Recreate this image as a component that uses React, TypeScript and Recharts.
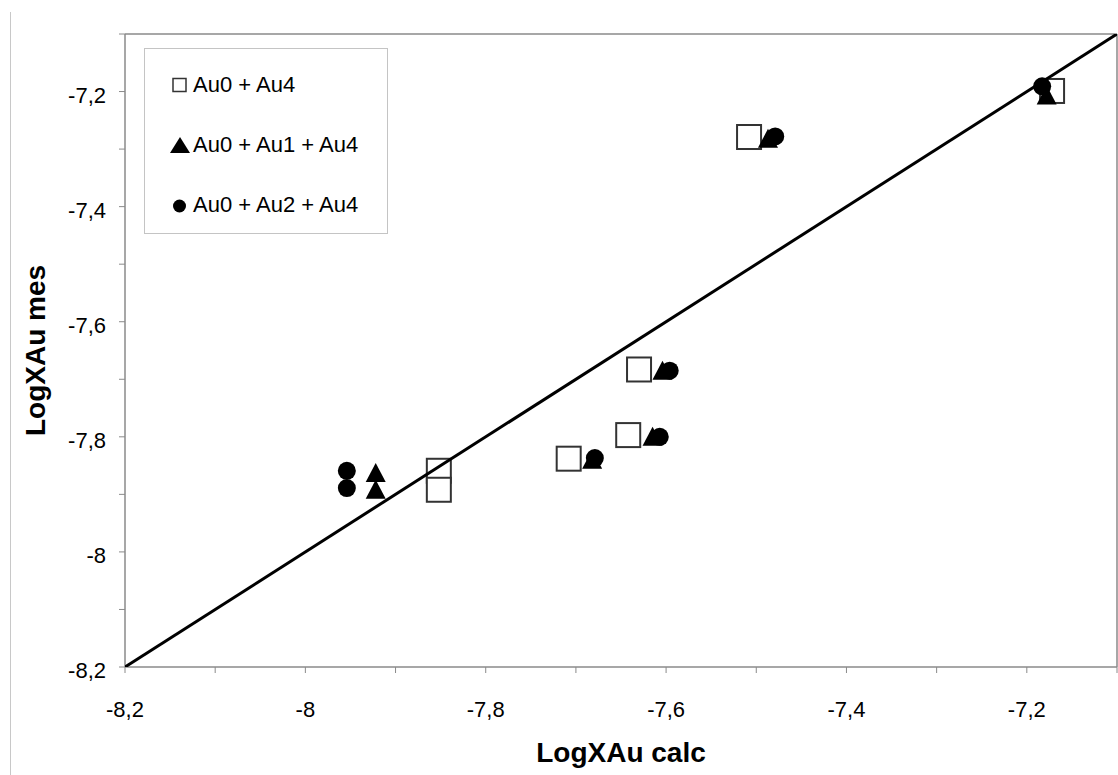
import React from "react";
import {
  ScatterChart,
  Scatter,
  XAxis,
  YAxis,
  ReferenceLine,
  Legend,
} from "recharts";

// ---- data ----
const sqCalc = [-7.852, -7.852, -7.708, -7.642, -7.63, -7.508, -7.172];
const sqMes = [-7.859, -7.892, -7.838, -7.797, -7.683, -7.279, -7.199];

const triCalc = [-7.922, -7.922, -7.682, -7.615, -7.604, -7.487, -7.178];
const triMes = [-7.863, -7.892, -7.84, -7.8, -7.685, -7.282, -7.207];

const cirCalc = [-7.954, -7.954, -7.679, -7.607, -7.596, -7.479, -7.183];
const cirMes = [-7.859, -7.889, -7.837, -7.8, -7.685, -7.278, -7.191];

const diagCalc = [-8.2, -7.1];
const diagMes = [-8.2, -7.1];

const tickValues = [-8.2, -8.1, -8, -7.9, -7.8, -7.7, -7.6, -7.5, -7.4, -7.3, -7.2, -7.1];
const tickLabels = ["-8,2", "", "-8", "", "-7,8", "", "-7,6", "", "-7,4", "", "-7,2", ""];

const seriesNames = ["Au0 + Au4", "Au0 + Au1 + Au4", "Au0 + Au2 + Au4"];

const zip = (xs: number[], ys: number[]) => xs.map((x, i) => ({ x, y: ys[i] }));
const squares = zip(sqCalc, sqMes);
const triangles = zip(triCalc, triMes);
const circles = zip(cirCalc, cirMes);
const diagonal = zip(diagCalc, diagMes);

const FONT = "'Liberation Sans', Arial, Helvetica, sans-serif";
const AXIS = "#8a8a8a";

const labelFor = (v: number) => {
  const i = tickValues.findIndex((t) => Math.abs(t - v) < 1e-9);
  return i >= 0 ? tickLabels[i] : "";
};

const XTick = (props: any) => {
  const { x, y, payload } = props;
  const l = labelFor(payload.value);
  if (!l) return null;
  return (
    <text x={x} y={y} dy={42} textAnchor="middle" fontSize={22} fontFamily={FONT} fill="#000">
      {l}
    </text>
  );
};

const YTick = (props: any) => {
  const { x, y, payload } = props;
  const l = labelFor(payload.value);
  if (!l) return null;
  return (
    <text x={x} y={y} dy={11} textAnchor="end" fontSize={22} fontFamily={FONT} fill="#000">
      {l}
    </text>
  );
};

const SquareShape = (p: any) => (
  <rect x={p.cx - 12} y={p.cy - 12} width={24} height={24} fill="#fff" stroke="#333" strokeWidth={2} />
);
const TriangleShape = (p: any) => (
  <polygon
    points={`${p.cx},${p.cy - 10} ${p.cx - 10},${p.cy + 9} ${p.cx + 10},${p.cy + 9}`}
    fill="#000"
  />
);
const CircleShape = (p: any) => <circle cx={p.cx} cy={p.cy} r={9} fill="#000" />;
const NoShape = () => null;

const LegendBox = () => (
  <div
    style={{
      width: 244,
      height: 186,
      boxSizing: "border-box",
      border: "1px solid #c4c4c4",
      background: "#fff",
      fontFamily: FONT,
      fontSize: 22,
      position: "relative",
    }}
  >
    {seriesNames.map((n, i) => (
      <div
        key={n}
        style={{
          position: "absolute",
          left: 24,
          top: 24 + i * 60,
          height: 24,
          display: "flex",
          alignItems: "center",
          whiteSpace: "nowrap",
          color: "#000",
        }}
      >
        <svg width={22} height={20} style={{ marginRight: 2 }}>
          {i === 0 && <rect x={4} y={3.5} width={13} height={13} fill="#fff" stroke="#333" strokeWidth={1.5} />}
          {i === 1 && <polygon points="11,2 1,18 21,18" fill="#000" />}
          {i === 2 && <circle cx={10.5} cy={11} r={6.5} fill="#000" />}
        </svg>
        <span>{n}</span>
      </div>
    ))}
  </div>
);

export default function App() {
  return (
    <div style={{ position: "fixed", left: 0, top: 0, width: 1118, height: 775, background: "#fff" }}>
      <div style={{ position: "absolute", left: 10, top: 12, bottom: 0, width: 1, background: "#c8c8c8" }} />
      <ScatterChart width={1118} height={775} margin={{ top: 34, right: 1, bottom: 0, left: 0 }}>
        <XAxis
          type="number"
          dataKey="x"
          domain={[-8.2, -7.1]}
          ticks={tickValues}
          interval={0}
          allowDataOverflow
          height={108}
          axisLine={{ stroke: AXIS, strokeWidth: 1.5 }}
          tickLine={{ stroke: AXIS, strokeWidth: 1 }}
          tickSize={6}
          tick={<XTick />}
          label={{
            content: (lp: any) => {
              const vb = lp.viewBox || {};
              return (
                <text
                  x={(vb.x || 0) + (vb.width || 0) / 2}
                  y={762}
                  textAnchor="middle"
                  fontSize={28}
                  fontWeight="bold"
                  fontFamily={FONT}
                  fill="#000"
                >
                  LogXAu calc
                </text>
              );
            },
          }}
        />
        <YAxis
          type="number"
          dataKey="y"
          domain={[-8.2, -7.1]}
          ticks={tickValues}
          interval={0}
          allowDataOverflow
          width={125}
          axisLine={{ stroke: AXIS, strokeWidth: 1.5 }}
          tickLine={{ stroke: AXIS, strokeWidth: 1 }}
          tickSize={6}
          tickMargin={13}
          tick={<YTick />}
          label={{
            content: (lp: any) => {
              const vb = lp.viewBox || {};
              const cy = (vb.y || 0) + (vb.height || 0) / 2;
              return (
                <text
                  x={45}
                  y={cy}
                  transform={`rotate(-90 45 ${cy})`}
                  textAnchor="middle"
                  fontSize={28}
                  fontWeight="bold"
                  fontFamily={FONT}
                  fill="#000"
                >
                  LogXAu mes
                </text>
              );
            },
          }}
        />
        <ReferenceLine y={-7.1} stroke={AXIS} strokeWidth={1.5} />
        <ReferenceLine x={-7.1} stroke={AXIS} strokeWidth={1.5} />
        <Legend
          layout="vertical"
          align="center"
          verticalAlign="middle"
          wrapperStyle={{ position: "absolute", left: 144, top: 48, width: 244, height: 186 }}
          content={() => <LegendBox />}
        />
        <Scatter name={seriesNames[0]} data={squares} shape={<SquareShape />} isAnimationActive={false} />
        <Scatter name={seriesNames[1]} data={triangles} shape={<TriangleShape />} isAnimationActive={false} />
        <Scatter name={seriesNames[2]} data={circles} shape={<CircleShape />} isAnimationActive={false} />
        <Scatter
          name="diag"
          data={diagonal}
          line={{ stroke: "#000", strokeWidth: 3 }}
          lineType="joint"
          shape={<NoShape />}
          legendType="none"
          isAnimationActive={false}
        />
      </ScatterChart>
    </div>
  );
}
